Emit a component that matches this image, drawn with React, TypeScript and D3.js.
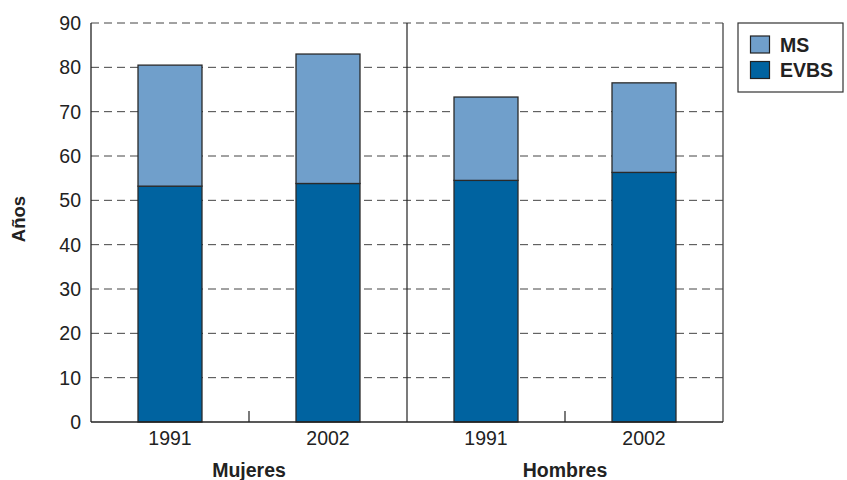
import * as d3 from "d3";

const groups = ["Mujeres", "Hombres"];
const years = ["1991", "2002"];
const categories = ["Mujeres-1991", "Mujeres-2002", "Hombres-1991", "Hombres-2002"];
const evbs = [53.2, 53.8, 54.5, 56.3];
const ms = [27.3, 29.2, 18.8, 20.2];
const yTicks = [0, 10, 20, 30, 40, 50, 60, 70, 80, 90];
const seriesNames = ["MS", "EVBS"];
const colors = { MS: "#709fcb", EVBS: "#0063a0" };

const W = 847;
const H = 480;
const M = { top: 23, right: 124, bottom: 58, left: 91 };
const FONT = "'Liberation Sans', Arial, Helvetica, sans-serif";

export default function App() {
  const x = d3.scaleBand().domain(categories).range([M.left, W - M.right]).padding(0);
  const gx = d3.scaleBand().domain(groups).range([M.left, W - M.right]).padding(0);
  const y = d3.scaleLinear().domain([0, 90]).range([H - M.bottom, M.top]);
  const barW = x.bandwidth() * 0.405;

  const rows = categories.map((c, i) => ({ c, evbs: evbs[i], ms: ms[i] }));
  const stacked = d3.stack<any>().keys(["evbs", "ms"])(rows);

  const right = W - M.right;
  const bottom = H - M.bottom;

  return (
    <svg width={W} height={H} style={{ position: "absolute", left: 0, top: 0, background: "#fff" }} fontFamily={FONT}>
      {/* grid */}
      {yTicks.filter(t => t > 0).map(t => (
        <line key={t} x1={M.left} x2={right} y1={y(t)} y2={y(t)}
          stroke="#444" strokeWidth={1} strokeDasharray="8,5" />
      ))}
      {/* bars */}
      {stacked.map(layer => layer.map((d, i) => {
        const cx = x(categories[i])! + x.bandwidth() / 2;
        const key = layer.key === "evbs" ? "EVBS" : "MS";
        return (
          <rect key={layer.key + i} x={cx - barW / 2} y={y(d[1])} width={barW}
            height={y(d[0]) - y(d[1])} fill={colors[key]} stroke="#2a2a2a" strokeWidth={1.3} />
        );
      }))}
      {/* frame */}
      <line x1={M.left} x2={M.left} y1={M.top} y2={bottom} stroke="#222" strokeWidth={1.3} />
      <line x1={right} x2={right} y1={M.top} y2={bottom} stroke="#444" strokeWidth={1.3} />
      <line x1={M.left} x2={right} y1={bottom} y2={bottom} stroke="#222" strokeWidth={1.3} />
      <line x1={gx("Hombres")!} x2={gx("Hombres")!} y1={M.top} y2={bottom} stroke="#222" strokeWidth={1.2} />
      {groups.map(g => (
        <line key={g} x1={gx(g)! + gx.bandwidth() / 2} x2={gx(g)! + gx.bandwidth() / 2}
          y1={bottom - 11} y2={bottom} stroke="#222" strokeWidth={1.2} />
      ))}
      {/* y tick labels */}
      {yTicks.map(t => (
        <text key={t} x={M.left - 10} y={y(t)} dy="0.36em" textAnchor="end" fontSize={19.5} fill="#222">{t}</text>
      ))}
      {/* x labels */}
      {categories.map((c, i) => (
        <text key={c} x={x(c)! + x.bandwidth() / 2} y={bottom + 23} textAnchor="middle" fontSize={19.5} fill="#222">
          {years[i % 2]}
        </text>
      ))}
      {groups.map(g => (
        <text key={g} x={gx(g)! + gx.bandwidth() / 2} y={H - 3} textAnchor="middle" fontSize={19.5}
          fontWeight="bold" fill="#222">{g}</text>
      ))}
      <text transform={`translate(25,219) rotate(-90)`} textAnchor="middle" fontSize={18.5}
        fontWeight="bold" fill="#222">Años</text>
      {/* legend */}
      <rect x={738} y={23} width={105} height={69} fill="#fff" stroke="#333" strokeWidth={1.2} />
      {seriesNames.map((s, i) => (
        <g key={s}>
          <rect x={750.5} y={36 + i * 25.5} width={19} height={17} fill={colors[s as "MS" | "EVBS"]} stroke="#222" strokeWidth={1.2} />
          <text x={780} y={44.5 + i * 25.5} dy="0.36em" fontSize={19.5} fontWeight="bold" fill="#222">{s}</text>
        </g>
      ))}
    </svg>
  );
}
